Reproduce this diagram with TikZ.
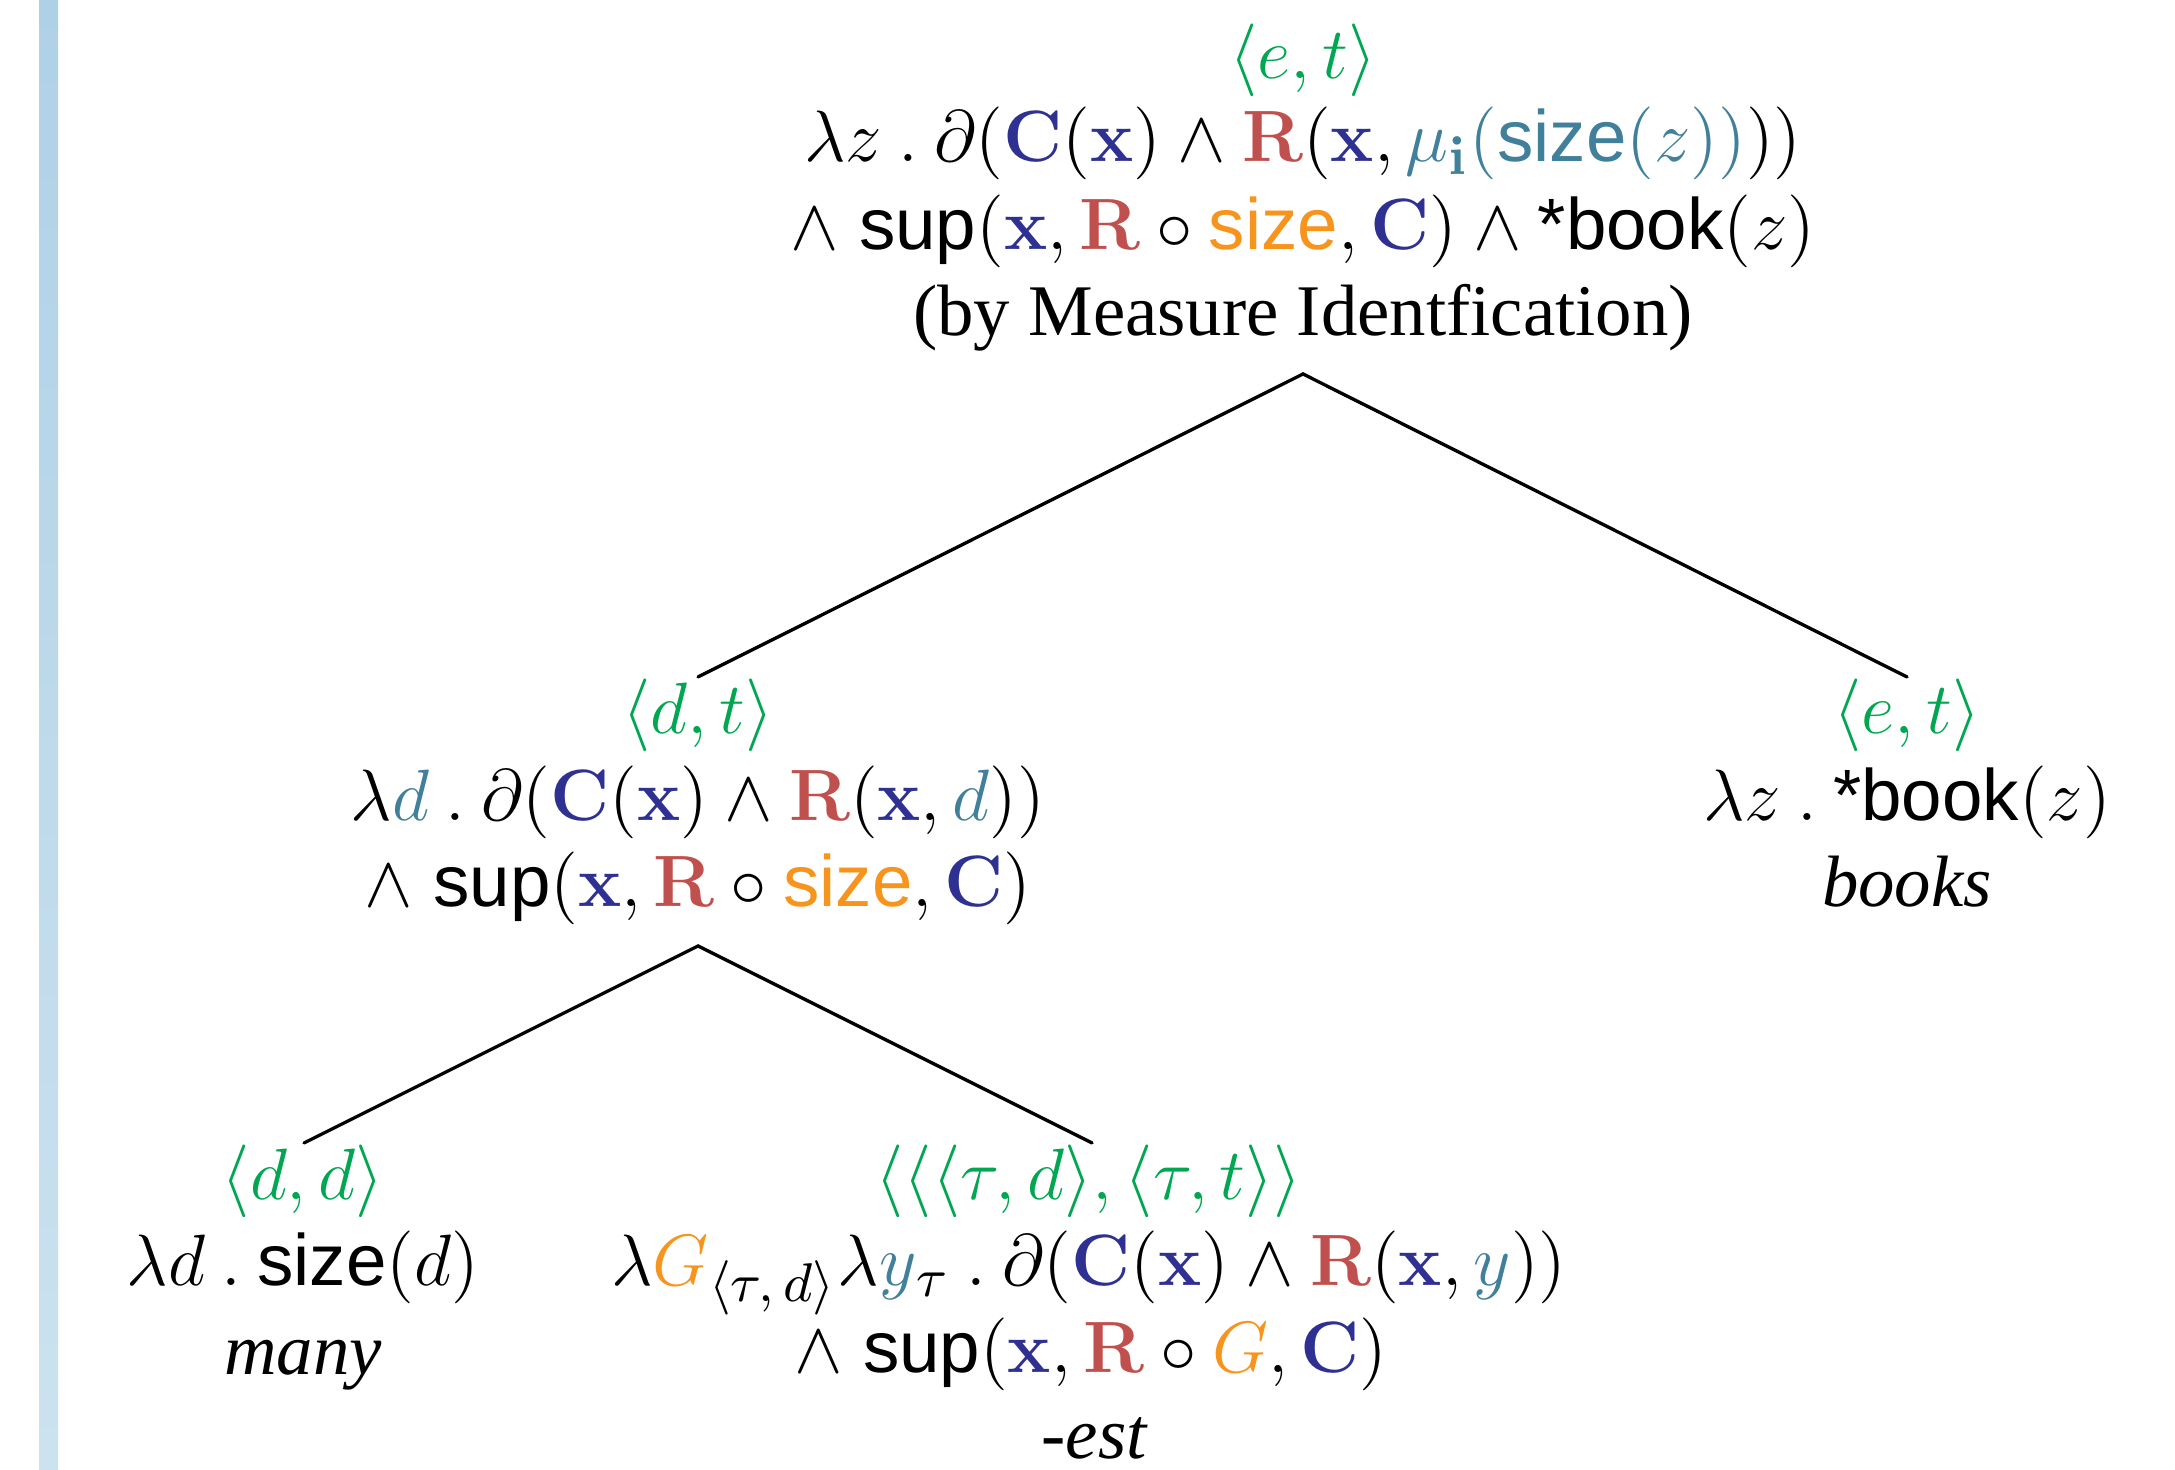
\documentclass[tikz,border=0pt]{standalone}
\usepackage[no-math]{fontspec}
\setmainfont{Liberation Serif}
\setsansfont{Liberation Sans}
\DeclareMathSizes{12}{12}{9.5}{7}
\definecolor{tgreen}{RGB}{0,166,80}
\definecolor{tblue}{RGB}{46,49,146}
\definecolor{tred}{RGB}{192,80,77}
\definecolor{tteal}{RGB}{64,128,155}
\definecolor{torange}{RGB}{247,148,29}
\definecolor{barTop}{RGB}{175,209,230}
\definecolor{barBot}{RGB}{204,226,239}
\newcommand{\bC}{\textcolor{tblue}{\mathbf{C}}}
\newcommand{\bx}{\textcolor{tblue}{\mathbf{x}}}
\newcommand{\bR}{\textcolor{tred}{\mathbf{R}}}
\newcommand{\dotsep}{\mathbin{.}}
\begin{document}
\begin{tikzpicture}[x=0.165pt,y=-0.165pt,
  lbl/.style={anchor=base,inner sep=0pt,font=\fontsize{12}{14}\selectfont},
  edge/.style={line width=0.55pt,line cap=round,line join=miter}]
\useasboundingbox (0,0) rectangle (2175,1470);
\shade[top color=barTop,bottom color=barBot] (39,0) rectangle (58,1470);

% root
\node[lbl] (rootA) at (1303,79) {\color{tgreen}$\langle e,t\rangle$};
\node[lbl] (rootB) at (1303,162) {$\lambda z\dotsep\partial(\bC(\bx)\wedge\bR(\bx,\textcolor{tteal}{\mu_{\mathbf{i}}(\textsf{size}(z))}))$};
\node[lbl] (rootC) at (1303,250) {$\wedge\;\textsf{sup}(\bx,\bR\circ\textcolor{torange}{\textsf{size}},\bC)\wedge\textsf{*book}(z)$};
\node[lbl] (rootD) at (1303,336) {(by Measure Identfication)};

% middle left
\node[lbl] (dtA) at (698,734) {\color{tgreen}$\langle d,t\rangle$};
\node[lbl] (dtB) at (698,821) {$\lambda\textcolor{tteal}{d}\dotsep\partial(\bC(\bx)\wedge\bR(\bx,\textcolor{tteal}{d}))$};
\node[lbl] (dtC) at (698,907) {$\wedge\;\textsf{sup}(\bx,\bR\circ\textcolor{torange}{\textsf{size}},\bC)$};

% right
\node[lbl] (etA) at (1907,734) {\color{tgreen}$\langle e,t\rangle$};
\node[lbl] (etB) at (1907,821) {$\lambda z\dotsep\textsf{*book}(z)$};
\node[lbl] (etC) at (1907,907) {\itshape books};

% bottom left
\node[lbl] (ddA) at (303,1200) {\color{tgreen}$\langle d,d\rangle$};
\node[lbl] (ddB) at (303,1286) {$\lambda d\dotsep\textsf{size}(d)$};
\node[lbl] (ddC) at (303,1375) {\itshape many};

% bottom middle
\node[lbl] (estA) at (1089,1200) {\color{tgreen}$\langle\langle\langle\tau,d\rangle,\langle\tau,t\rangle\rangle$};
\node[lbl] (estB) at (1089,1286) {$\lambda\textcolor{torange}{G}_{\langle\tau,\,d\rangle}\lambda\textcolor{tteal}{y}_{\tau}\dotsep\partial(\bC(\bx)\wedge\bR(\bx,\textcolor{tteal}{y}))$};
\node[lbl] (estC) at (1091,1373) {$\wedge\;\textsf{sup}(\bx,\bR\circ\textcolor{torange}{G},\bC)$};
\node[lbl] (estD) at (1094,1459) {\itshape -est};

% connectors
\coordinate (rootFoot) at (1303,374);
\coordinate (dtHead) at (698,677);
\coordinate (etHead) at (1907,677);
\coordinate (dtFoot) at (698,946);
\coordinate (ddHead) at (304,1143);
\coordinate (estHead) at (1092,1143);
\draw[edge] (dtHead) -- (rootFoot) -- (etHead);
\draw[edge] (ddHead) -- (dtFoot) -- (estHead);
\end{tikzpicture}
\end{document}
